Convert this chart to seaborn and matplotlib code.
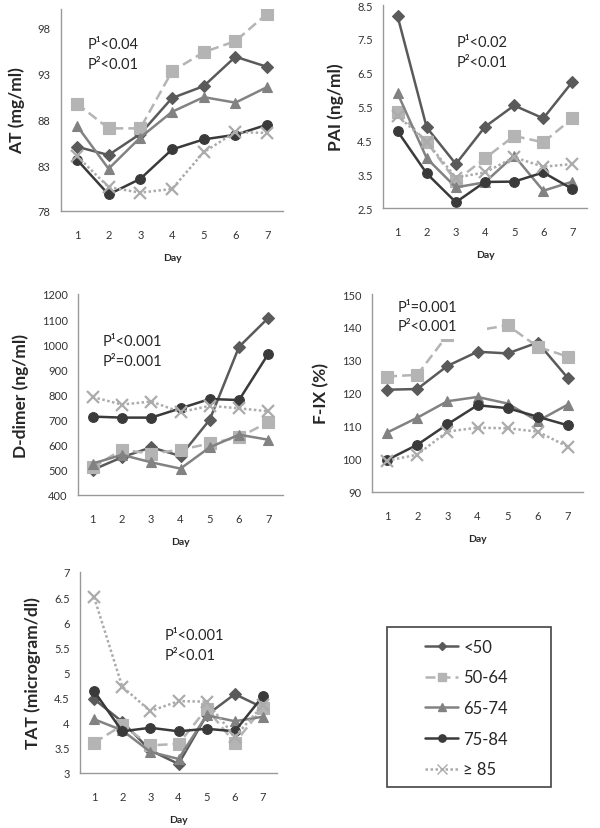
import pandas as pd
import numpy as np
import seaborn as sns
import matplotlib.pyplot as plt
from matplotlib.patches import Rectangle

# --- data ---
days = [1, 2, 3, 4, 5, 6, 7]
groups = ['<50', '50-64', '65-74', '75-84', '≥ 85']

at_lt50 = [85.0, 84.1, 86.4, 90.3, 91.6, 94.8, 93.7]
at_50_64 = [89.7, 87.0, 87.0, 93.2, 95.3, 96.5, 99.5]
at_65_74 = [87.3, 82.6, 86.0, 88.8, 90.4, 89.8, 91.5]
at_75_84 = [83.6, 79.8, 81.5, 84.7, 85.8, 86.3, 87.4]
at_ge85 = [84.0, 80.6, 80.0, 80.4, 84.4, 86.6, 86.5]

pai_lt50 = [8.17, 4.88, 3.80, 4.90, 5.53, 5.15, 6.23]
pai_50_64 = [5.35, 4.45, 3.30, 3.97, 4.63, 4.44, 5.15]
pai_65_74 = [5.89, 3.97, 3.11, 3.26, 4.05, 3.01, 3.28]
pai_75_84 = [4.77, 3.52, 2.67, 3.27, 3.28, 3.55, 3.06]
pai_ge85 = [5.23, 4.45, 3.40, 3.55, 4.00, 3.72, 3.80]

dd_lt50 = [500, 550, 590, 555, 700, 990, 1105]
dd_50_64 = [510, 580, 565, 580, 605, 630, 690]
dd_65_74 = [525, 560, 530, 505, 590, 640, 620]
dd_75_84 = [712, 708, 708, 745, 782, 778, 962]
dd_ge85 = [790, 760, 772, 730, 755, 745, 733]

fix_lt50 = [121.0, 121.2, 128.2, 132.5, 132.0, 135.3, 124.5]
fix_50_64 = [125.0, 125.5, 137.5, 139.0, 140.5, 134.0, 131.0]
fix_65_74 = [108.0, 112.5, 117.5, 118.8, 116.8, 111.5, 116.5]
fix_75_84 = [99.7, 104.3, 110.5, 116.3, 115.4, 112.8, 110.2]
fix_ge85 = [99.5, 101.3, 108.3, 109.5, 109.3, 108.3, 103.7]

tat_lt50 = [4.47, 4.02, 3.45, 3.18, 4.15, 4.57, 4.30]
tat_50_64 = [3.60, 3.95, 3.55, 3.58, 4.28, 3.60, 4.30]
tat_65_74 = [4.07, 3.85, 3.42, 3.28, 4.15, 4.03, 4.12]
tat_75_84 = [4.63, 3.83, 3.90, 3.83, 3.88, 3.83, 4.53]
tat_ge85 = [6.50, 4.72, 4.23, 4.43, 4.42, 3.72, 4.35]

panels = [
    # (series, ylabel, ylim, yticks, p texts, text pos, axes rect in px [l, t, r, b])
    ([at_lt50, at_50_64, at_65_74, at_75_84, at_ge85], 'AT (mg/ml)',
     (78, 100), [78, 83, 88, 93, 98], ('P¹<0.04', 'P²<0.01'), (0.12, 0.86),
     [61, 10, 283, 212]),
    ([pai_lt50, pai_50_64, pai_65_74, pai_75_84, pai_ge85], 'PAI (ng/ml)',
     (2.5, 8.5), [2.5, 3.5, 4.5, 5.5, 6.5, 7.5, 8.5], ('P¹<0.02', 'P²<0.01'), (0.36, 0.85),
     [383, 6, 587, 209]),
    ([dd_lt50, dd_50_64, dd_65_74, dd_75_84, dd_ge85], 'D-dimer (ng/ml)',
     (400, 1200), list(range(400, 1201, 100)), ('P¹<0.001', 'P²=0.001'), (0.12, 0.80),
     [78, 295, 283, 496]),
    ([fix_lt50, fix_50_64, fix_65_74, fix_75_84, fix_ge85], 'F-IX (%)',
     (90, 150), list(range(90, 151, 10)), ('P¹=0.001', 'P²<0.001'), (0.12, 0.97),
     [372, 295, 583, 493]),
    ([tat_lt50, tat_50_64, tat_65_74, tat_75_84, tat_ge85], 'TAT (microgram/dl)',
     (3, 7), [3, 3.5, 4, 4.5, 5, 5.5, 6, 6.5, 7], ('P¹<0.001', 'P²<0.01'), (0.43, 0.72),
     [80, 573, 277, 774]),
]

palette = {'<50': '#5a5a5a', '50-64': '#b4b4b4', '65-74': '#828282',
           '75-84': '#3a3a3a', '≥ 85': '#ababab'}
markers = {'<50': 'D', '50-64': 's', '65-74': '^', '75-84': 'o', '≥ 85': 'x'}
lstyles = {'<50': '-', '50-64': (0, (4, 2)), '65-74': '-', '75-84': '-', '≥ 85': (0, (1, 1))}
msizes = {'<50': 6, '50-64': 8, '65-74': 7.5, '75-84': 7, '≥ 85': 9}

sns.set_style('white')
plt.rcParams['font.family'] = ['Lato', 'DejaVu Sans']

W, H = 600, 829
fig = plt.figure(figsize=(W / 100, H / 100), dpi=100)

for series, ylabel, ylim, yticks, ptexts, tpos, rect in panels:
    l, t, r, b = rect
    ax = fig.add_axes([l / W, 1 - b / H, (r - l) / W, (b - t) / H])
    for g, vals in zip(groups, series):
        df = pd.DataFrame({'Day': days, 'Value': vals})
        sns.lineplot(data=df, x='Day', y='Value', color=palette[g],
                     marker=markers[g], markersize=msizes[g], linestyle=lstyles[g],
                     markeredgecolor=palette[g],
                     markeredgewidth=1.6 if g == '≥ 85' else 0.8,
                     linewidth=1.8, ax=ax)
    ax.set_xlim(0.5, 7.5)
    ax.set_ylim(*ylim)
    ax.set_xticks(days)
    ax.set_xticks(np.arange(0.5, 7.6, 1), minor=True)
    ax.tick_params(axis='x', which='major', length=0, labelsize=8, pad=13, colors='#333333')
    ax.tick_params(axis='x', which='minor', length=4, color='#999999', direction='out')
    ax.set_yticks(yticks)
    ax.set_yticklabels([f'{v:g}' for v in yticks])
    ax.tick_params(axis='y', length=4, color='#999999', labelsize=8, labelcolor='#333333')
    for s in ['top', 'right']:
        ax.spines[s].set_visible(False)
    for s in ['left', 'bottom']:
        ax.spines[s].set_color('#999999')
        ax.spines[s].set_linewidth(1)
    ax.set_xlabel('Day', fontsize=7.5, fontweight='bold', labelpad=9)
    ax.set_ylabel(ylabel, fontsize=12.5, fontweight='bold', labelpad=9)
    ax.text(tpos[0], tpos[1], ptexts[0] + '\n' + ptexts[1], transform=ax.transAxes,
            fontsize=10.5, va='top', ha='left', linespacing=1.5, zorder=10,
            bbox=dict(facecolor='white', edgecolor='none', pad=1))
    if ylabel.startswith('F-IX'):
        # the white text box in the original hides part of the 50-64 line
        ax.add_patch(Rectangle((1.2, 136.3), 3.12, 14, facecolor='white',
                               edgecolor='none', zorder=5))

# legend box
handles = []
for g in groups:
    h, = plt.plot([], [], color=palette[g], marker=markers[g], markersize=msizes[g] * 0.75,
                  linewidth=1.8, linestyle=lstyles[g], markeredgecolor=palette[g])
    handles.append(h)
fig.patches.append(Rectangle((387 / W, 1 - 788 / H), 164 / W, 160 / H,
                             transform=fig.transFigure, facecolor='white',
                             edgecolor='#444444', linewidth=1.2))
fig.legend(handles, groups, loc='center left',
           bbox_to_anchor=(425 / W, 1 - 709 / H), fontsize=12,
           frameon=False, labelspacing=0.88, handlelength=2.0,
           handletextpad=0.3, borderpad=0, borderaxespad=0)

plt.savefig('out.png', dpi=100)
